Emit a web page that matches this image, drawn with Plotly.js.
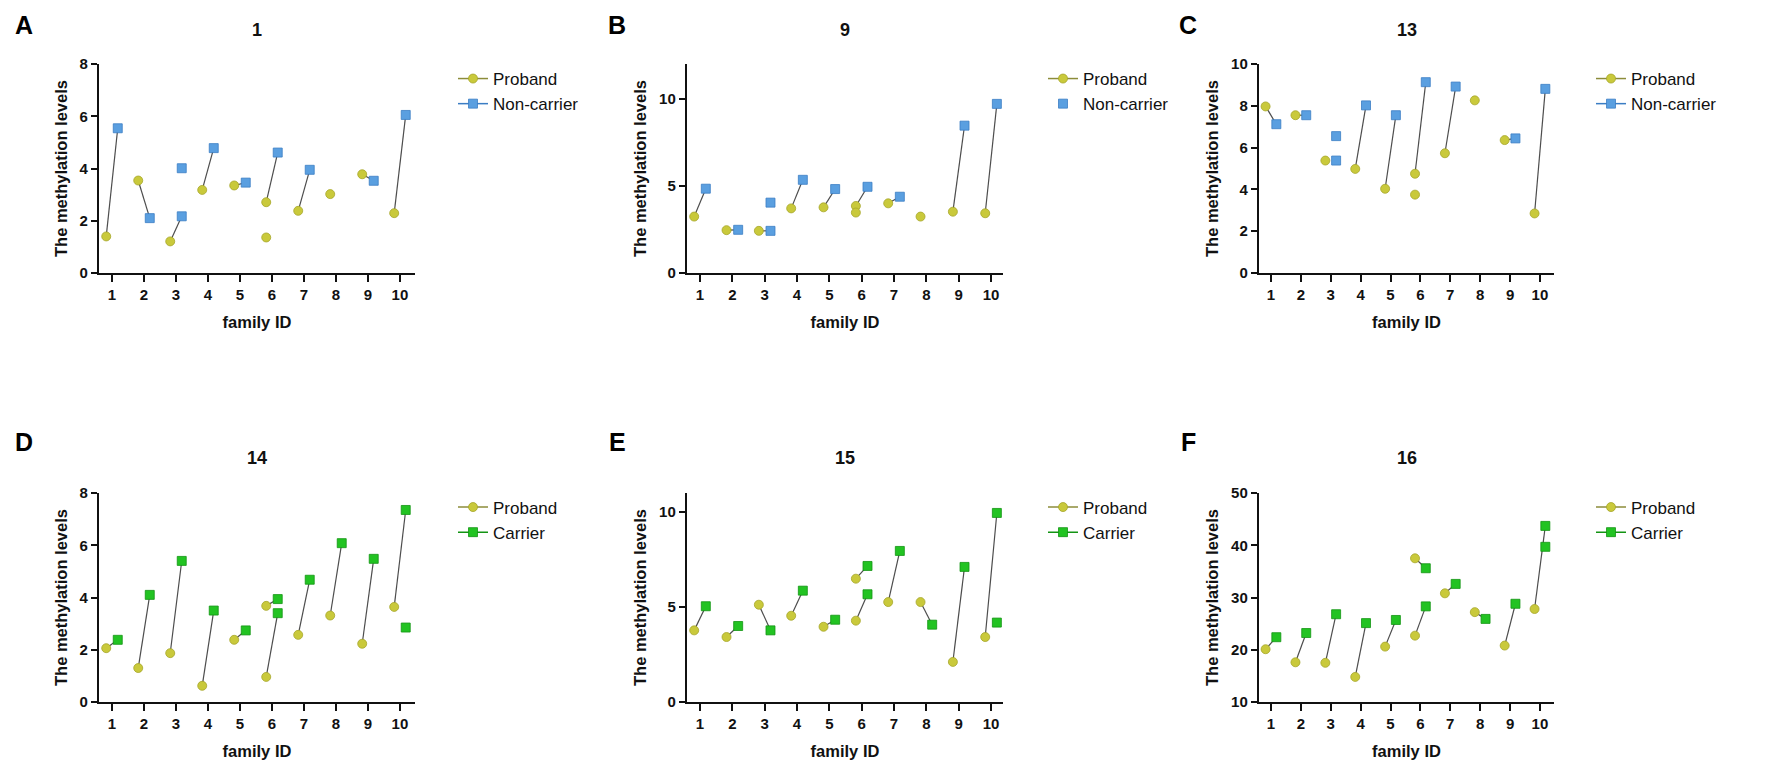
<!DOCTYPE html>
<html>
<head>
<meta charset="utf-8">
<script src="https://cdn.plot.ly/plotly-3.0.1.min.js"></script>
<style>
  body { margin: 0; background: #fff; }
  #chart { width: 1772px; height: 782px; }
</style>
</head>
<body>
<div id="chart"></div>
<script>
// one entry per row: family ID, proband value, relative value (null = no point)
// panel A, region 1
const famA  = [1, 2, 3, 3, 4, 5, 6, 6, 7, 8, 9, 10];
const probA = [1.40, 3.54, 1.21, null, 3.18, 3.35, 2.71, 1.36, 2.38, 3.02, 3.78, 2.29];
const relA  = [5.54, 2.10, 2.17, 4.01, 4.78, 3.46, 4.61, null, 3.95, null, 3.53, 6.05];

// panel B, region 9
const famB  = [1, 2, 3, 3, 4, 5, 6, 6, 7, 8, 9, 10];
const probB = [3.24, 2.46, 2.42, null, 3.71, 3.77, 3.85, 3.47, 4.00, 3.24, 3.52, 3.43];
const relB  = [4.84, 2.48, 2.42, 4.04, 5.35, 4.82, 4.95, null, 4.38, null, 8.46, 9.71];

// panel C, region 13
const famC  = [1, 2, 3, 3, 3, 4, 5, 6, 6, 7, 8, 9, 10];
const probC = [7.97, 7.55, 5.38, null, null, 4.98, 4.03, 4.75, 3.75, 5.73, 8.26, 6.36, 2.85];
const relC  = [7.12, 7.55, null, 5.38, 6.55, 8.02, 7.55, 9.13, null, 8.92, null, 6.44, 8.81];

// panel D, region 14
const famD  = [1, 2, 3, 4, 5, 6, 6, 7, 8, 9, 10, 10];
const probD = [2.06, 1.30, 1.87, 0.62, 2.38, 0.96, 3.68, 2.57, 3.31, 2.23, 3.64, null];
const relD  = [2.38, 4.10, 5.40, 3.50, 2.74, 3.40, 3.94, 4.68, 6.08, 5.48, 7.35, 2.85];

// panel E, region 15
const famE  = [1, 2, 3, 4, 5, 6, 6, 7, 8, 9, 10, 10];
const probE = [3.77, 3.42, 5.12, 4.54, 3.96, 6.49, 4.28, 5.26, 5.26, 2.11, 3.42, null];
const relE  = [5.04, 4.00, 3.77, 5.86, 4.33, 7.16, 5.67, 7.95, 4.07, 7.11, 9.95, 4.18];

// panel F, region 16
const famF  = [1, 2, 3, 4, 5, 6, 6, 7, 8, 9, 10, 10];
const probF = [20.1, 17.6, 17.5, 14.8, 20.6, 37.5, 22.7, 30.8, 27.2, 20.8, 27.8, null];
const relF  = [22.4, 23.2, 26.8, 25.1, 25.7, 35.6, 28.3, 32.6, 25.9, 28.8, 43.7, 39.7];

const familyIds = [1, 2, 3, 4, 5, 6, 7, 8, 9, 10];
const panelTitles = ["1", "9", "13", "14", "15", "16"];
const panelLetters = ["A", "B", "C", "D", "E", "F"];
const relNames = ["Non-carrier", "Non-carrier", "Non-carrier", "Carrier", "Carrier", "Carrier"];

const W = 1772, H = 782;
const FONT = "Liberation Sans, Arial, sans-serif";
const PROB_COL = "#c9c93b", PROB_EDGE = "#a6a62a";
const BLUE = "#5a9fe0", BLUE_EDGE = "#3b7dc4";
const GREEN = "#22c322", GREEN_EDGE = "#139413";
const OFF = 0.18;

// pixel boxes of the plot areas
const colX = [[99, 415], [687, 1003], [1259, 1554]];
const rowY = [[64, 273], [493, 702]];
const xRanges = [[0.594, 10.47], [0.598, 10.37], [0.6, 10.47]];
const legX = [475, 1065, 1613];
const legY = [91.5, 520];

const panels = [
  { fam: famA, prob: probA, rel: relA, yr: [0, 8],   dt: 2,  col: BLUE,  edge: BLUE_EDGE,  legLine: true },
  { fam: famB, prob: probB, rel: relB, yr: [0, 12],  dt: 5,  col: BLUE,  edge: BLUE_EDGE,  legLine: false },
  { fam: famC, prob: probC, rel: relC, yr: [0, 10],  dt: 2,  col: BLUE,  edge: BLUE_EDGE,  legLine: true },
  { fam: famD, prob: probD, rel: relD, yr: [0, 8],   dt: 2,  col: GREEN, edge: GREEN_EDGE, legLine: true },
  { fam: famE, prob: probE, rel: relE, yr: [0, 11],  dt: 5,  col: GREEN, edge: GREEN_EDGE, legLine: true },
  { fam: famF, prob: probF, rel: relF, yr: [10, 50], dt: 10, col: GREEN, edge: GREEN_EDGE, legLine: true }
];

let traces = [];
let layout = {
  width: W, height: H,
  margin: { l: 0, r: 0, t: 0, b: 0 },
  paper_bgcolor: "#fff", plot_bgcolor: "#fff",
  font: { family: FONT, color: "#111" },
  showlegend: true,
  annotations: []
};

panels.forEach((p, i) => {
  const n = i + 1;
  const sfx = n === 1 ? "" : String(n);
  const xa = "x" + sfx, ya = "y" + sfx;
  const leg = n === 1 ? "legend" : "legend" + n;
  const c = i % 3, r = Math.floor(i / 3);

  // connecting lines for rows that have both values
  let lx = [], ly = [];
  p.fam.forEach((f, k) => {
    if (p.prob[k] != null && p.rel[k] != null) {
      lx.push(f - OFF, f + OFF, null);
      ly.push(p.prob[k], p.rel[k], null);
    }
  });
  traces.push({
    x: lx, y: ly, xaxis: xa, yaxis: ya, mode: "lines", type: "scatter",
    line: { color: "#4d4d4d", width: 1.2 }, showlegend: false, hoverinfo: "skip"
  });

  // separate points (nulls keep them unconnected, legend keeps the -o- look)
  let px = [], py = [], rx = [], ry = [];
  p.fam.forEach((f, k) => {
    if (p.prob[k] != null) { px.push(f - OFF, null); py.push(p.prob[k], null); }
    if (p.rel[k] != null) { rx.push(f + OFF, null); ry.push(p.rel[k], null); }
  });
  traces.push({
    x: px, y: py, xaxis: xa, yaxis: ya, type: "scatter", mode: "lines+markers",
    name: "Proband", legend: leg, connectgaps: false,
    line: { color: "#8c8c3a", width: 1.5 },
    marker: { symbol: "circle", size: 9, color: PROB_COL, line: { color: PROB_EDGE, width: 0.8 } }
  });
  traces.push({
    x: rx, y: ry, xaxis: xa, yaxis: ya, type: "scatter",
    mode: p.legLine ? "lines+markers" : "markers",
    name: relNames[i], legend: leg, connectgaps: false,
    line: { color: p.edge, width: 1.5 },
    marker: { symbol: "square", size: 9, color: p.col, line: { color: p.edge, width: 0.8 } }
  });

  const axisBase = {
    showline: true, linecolor: "#111", linewidth: 2.2, mirror: false,
    ticks: "outside", ticklen: 6, tickwidth: 2, tickcolor: "#111",
    showgrid: false, zeroline: false, fixedrange: true,
    tickfont: { family: FONT, size: 15, color: "#111", weight: "bold" }
  };
  layout["xaxis" + sfx] = Object.assign({}, axisBase, {
    anchor: ya,
    domain: [colX[c][0] / W, colX[c][1] / W],
    range: xRanges[c],
    tickmode: "array", tickvals: familyIds, ticklen: 7,
    title: { text: "<b>family ID</b>", font: { family: FONT, size: 16.5, color: "#111" }, standoff: 14 }
  });
  layout["yaxis" + sfx] = Object.assign({}, axisBase, {
    anchor: xa,
    domain: [1 - rowY[r][1] / H, 1 - rowY[r][0] / H],
    range: p.yr, dtick: p.dt, tick0: 0,
    title: { text: "<b>The methylation levels</b>", font: { family: FONT, size: 16.5, color: "#111" }, standoff: 8 }
  });

  layout[leg] = {
    x: (legX[c] - 22) / W, xanchor: "left",
    y: 1 - legY[r] / H, yanchor: "middle",
    bgcolor: "rgba(0,0,0,0)", borderwidth: 0,
    font: { family: FONT, size: 17, color: "#111" },
    itemwidth: 30, tracegroupgap: 0
  };

  // panel title and letter
  layout.annotations.push({
    xref: "paper", yref: "paper",
    x: (colX[c][0] + colX[c][1]) / 2 / W, y: 1 - (r === 0 ? 30 : 458) / H,
    xanchor: "center", yanchor: "middle", showarrow: false,
    text: "<b>" + panelTitles[i] + "</b>", font: { family: FONT, size: 18, color: "#111" }
  });
  layout.annotations.push({
    xref: "paper", yref: "paper",
    x: [24, 617, 1188][c] / W, y: 1 - (r === 0 ? 25 : 442) / H,
    xanchor: "center", yanchor: "middle", showarrow: false,
    text: "<b>" + panelLetters[i] + "</b>", font: { family: FONT, size: 25, color: "#000" }
  });
});

Plotly.newPlot("chart", traces, layout, { displayModeBar: false, staticPlot: true });
</script>
</body>
</html>
